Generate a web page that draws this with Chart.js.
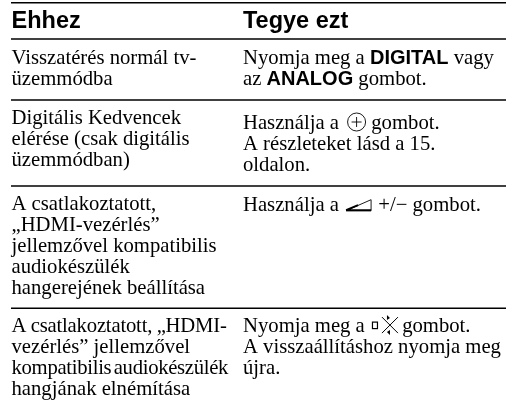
<!DOCTYPE html>
<html>
<head>
<meta charset="utf-8">
<title>Ehhez / Tegye ezt</title>
<script src="https://cdn.jsdelivr.net/npm/chart.js@4"></script>
<style>
    html, body { margin: 0; padding: 0; background: #fff; }
    canvas { display: block; }
</style>
</head>
<body>
<canvas id="tableChart" width="506" height="400"></canvas>
<script>
const headers = ['Ehhez', 'Tegye ezt'];
const ruleValues = [2.7, 39, 100, 186, 308.3];
const leftCells = [
    ['Visszatérés normál tv-', 'üzemmódba'],
    ['Digitális Kedvencek', 'elérése (csak digitális', 'üzemmódban)'],
    ['A csatlakoztatott,', '„HDMI-vezérlés”', 'jellemzővel kompatibilis', 'audiokészülék', 'hangerejének beállítása'],
    ['A csatlakoztatott, „HDMI-', 'vezérlés” jellemzővel', 'kompatibilis audiokészülék', 'hangjának elnémítása']
];
const rightCells = [
    ['Nyomja meg a *DIGITAL* vagy', 'az *ANALOG* gombot.'],
    ['Használja a {plus} gombot.', 'A részleteket lásd a 15.', 'oldalon.'],
    ['Használja a {volume} +/− gombot.'],
    ['Nyomja meg a {mute} gombot.', 'A visszaállításhoz nyomja meg', 'újra.']
];
const leftFirstLine = [25, 24, 24.3, 23.8];
const rightFirstLine = [25, 29.3, 24.7, 23.8];

const COL_LEFT = 11.5;
const COL_RIGHT = 243;
const LINE_HEIGHT = 20.8;
const BODY_FONT = '20.7px "Liberation Serif"';
const BOLD_FONT = 'bold 20px "Liberation Sans"';
const iconWidths = { plus: 22, volume: 29, mute: 27 };
// lines the original sets tighter than the natural width
const tightLines = {
    'kompatibilis audiokészülék': ['-0.3px', '-2.5px'],
    'A csatlakoztatott, „HDMI-': ['-0.2px', '-0.5px']
};

function drawIcon(ctx, name, x, base) {
    ctx.save();
    ctx.strokeStyle = '#000';
    ctx.fillStyle = '#000';
    ctx.lineWidth = 0.9;
    if (name === 'plus') {
        ctx.beginPath();
        ctx.arc(x + 12.5, base - 7.3, 9, 0, Math.PI * 2);
        ctx.moveTo(x + 12.5, base - 12.3);
        ctx.lineTo(x + 12.5, base - 2.3);
        ctx.moveTo(x + 7.5, base - 7.3);
        ctx.lineTo(x + 17.5, base - 7.3);
        ctx.stroke();
    } else if (name === 'volume') {
        ctx.beginPath();
        ctx.moveTo(x + 2, base);
        ctx.lineTo(x + 27, base - 11);
        ctx.lineTo(x + 27, base);
        ctx.closePath();
        ctx.stroke();
        ctx.lineWidth = 2;
        ctx.beginPath();
        ctx.moveTo(x + 2, base - 0.5);
        ctx.lineTo(x + 27, base - 0.5);
        ctx.moveTo(x + 2, base - 0.5);
        ctx.lineTo(x + 14, base - 5.5);
        ctx.stroke();
    } else if (name === 'mute') {
        ctx.lineWidth = 1.2;
        ctx.strokeRect(x + 2.5, base - 10, 5, 6.5);
        ctx.lineWidth = 1;
        ctx.beginPath();
        ctx.moveTo(x + 12, base - 15);
        ctx.lineTo(x + 28, base + 1);
        ctx.moveTo(x + 28, base - 15);
        ctx.lineTo(x + 12, base + 1);
        ctx.stroke();
        // little arrow heads on top and bottom of the cross
        ctx.beginPath();
        ctx.moveTo(x + 17, base - 17);
        ctx.lineTo(x + 20, base - 14);
        ctx.lineTo(x + 17, base - 12);
        ctx.moveTo(x + 20, base + 3);
        ctx.lineTo(x + 17, base);
        ctx.lineTo(x + 20, base - 2);
        ctx.fill();
    }
    ctx.restore();
}

function drawLine(ctx, text, x, base) {
    const tight = tightLines[text];
    ctx.letterSpacing = tight ? tight[0] : '0px';
    ctx.wordSpacing = tight ? tight[1] : '0px';
    text.split(/(\*[^*]+\*|\{[a-z]+\})/).filter(Boolean).forEach(part => {
        if (part[0] === '{') {
            const name = part.slice(1, -1);
            drawIcon(ctx, name, x, base);
            x += iconWidths[name];
        } else {
            const bold = part[0] === '*';
            const str = bold ? part.slice(1, -1) : part;
            ctx.font = bold ? BOLD_FONT : BODY_FONT;
            ctx.fillText(str, x, base);
            x += ctx.measureText(str).width;
        }
    });
}

function drawCells(chart, cells, firstLine, col) {
    const xs = chart.scales.x;
    const ys = chart.scales.y;
    cells.forEach((lines, row) => {
        lines.forEach((line, i) => {
            const base = ruleValues[row + 1] + firstLine[row] + i * LINE_HEIGHT;
            drawLine(chart.ctx, line, xs.getPixelForValue(col), ys.getPixelForValue(base));
        });
    });
}

const tableText = {
    id: 'tableText',
    afterDatasetsDraw(chart) {
        const ctx = chart.ctx;
        const xs = chart.scales.x;
        const ys = chart.scales.y;
        ctx.save();
        ctx.fillStyle = '#000';
        ctx.textBaseline = 'alphabetic';
        ctx.font = 'bold 23.5px "Liberation Sans"';
        ctx.fillText(headers[0], xs.getPixelForValue(COL_LEFT), ys.getPixelForValue(28.4));
        ctx.fillText(headers[1], xs.getPixelForValue(COL_RIGHT), ys.getPixelForValue(28.4));
        drawCells(chart, leftCells, leftFirstLine, COL_LEFT);
        drawCells(chart, rightCells, rightFirstLine, COL_RIGHT);
        ctx.restore();
    }
};

new Chart(document.getElementById('tableChart').getContext('2d'), {
    type: 'scatter',
    data: {
        datasets: ruleValues.map(v => ({
            data: [{ x: 11, y: v }, { x: 506, y: v }],
            showLine: true,
            borderColor: '#000',
            borderWidth: 1.5,
            pointRadius: 0
        }))
    },
    options: {
        responsive: false,
        animation: false,
        layout: { padding: 0 },
        plugins: { legend: { display: false }, tooltip: { enabled: false } },
        scales: {
            x: { type: 'linear', display: false, min: 0, max: 506 },
            y: { type: 'linear', display: false, min: 0, max: 400, reverse: true }
        }
    },
    plugins: [tableText]
});
</script>
</body>
</html>
